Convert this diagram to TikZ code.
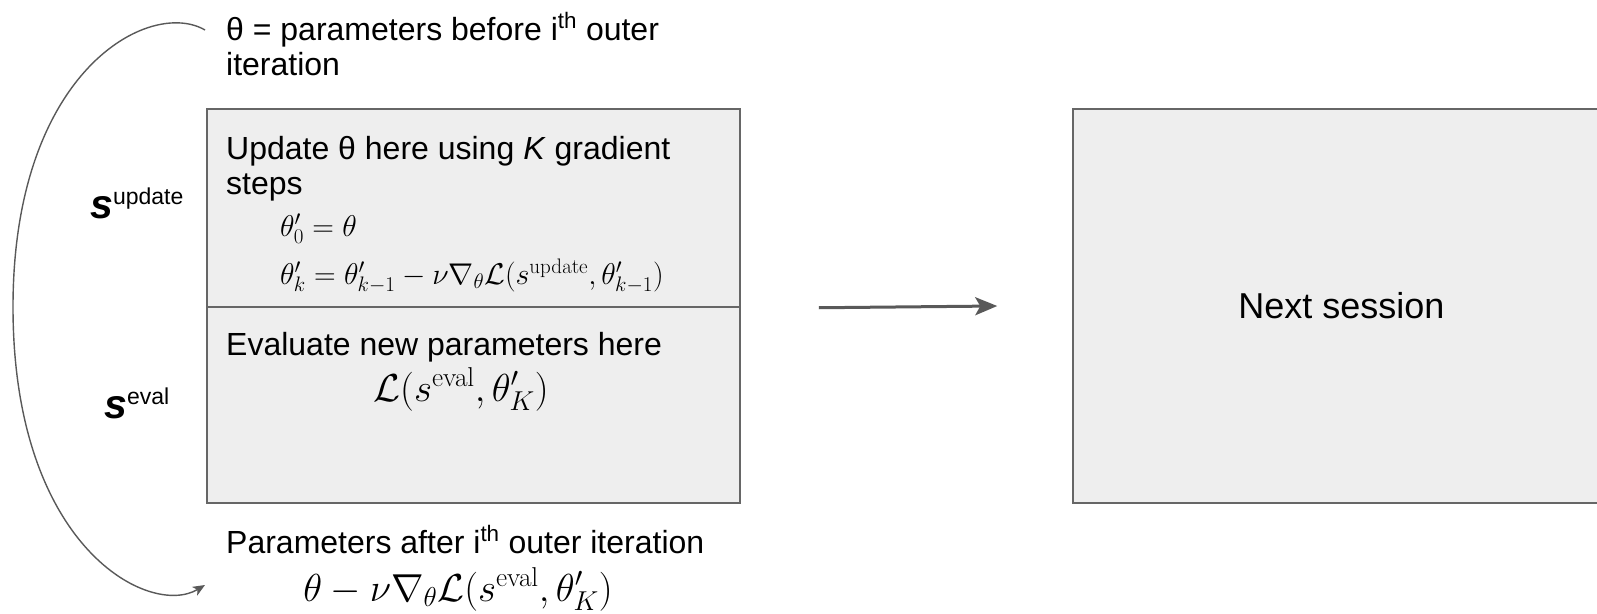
\RequirePackage{fix-cm}
\documentclass[tikz,border=0pt]{standalone}
\usepackage[no-math]{fontspec}
\setmainfont{Liberation Sans}
\usepackage{amsmath}
\usetikzlibrary{arrows.meta}
\definecolor{boxfill}{HTML}{EEEEEE}
\definecolor{boxline}{HTML}{666666}
\definecolor{arrcol}{HTML}{595959}
\newcommand{\sidelabel}[1]{{\fontsize{41}{43}\selectfont\bfseries\itshape s}\raisebox{14pt}{\fontsize{23}{25}\selectfont #1}}
\begin{document}
\begin{tikzpicture}[x=1pt,y=-1pt,
  panel/.style={draw=boxline,line width=1.5pt,fill=boxfill,inner sep=0pt},
  txt/.style={anchor=base west,inner sep=0pt,font=\fontsize{32}{36}\selectfont},
  lbl/.style={anchor=base west,inner sep=0pt},
  eq/.style={anchor=base west,inner sep=0pt,font=\fontsize{30}{34}\selectfont},
  bigeq/.style={anchor=base,inner sep=0pt,font=\fontsize{39}{45}\selectfont},
  conn/.style={draw=arrcol,line width=3pt,-{Stealth[length=22pt,width=18pt,inset=5pt]}},
  loopconn/.style={draw=arrcol,line width=1.4pt,-{Stealth[length=12pt,width=10pt,inset=3pt]}},
  ]
\useasboundingbox (0,0) rectangle (1597,613);
% boxes
\node[panel,minimum width=533pt,minimum height=198pt] (upd) at (473.5,208) {};
\node[panel,minimum width=533pt,minimum height=196pt] (evl) at (473.5,405) {};
\node[panel,minimum width=537pt,minimum height=394pt,font=\fontsize{36}{40}\selectfont] (next) at (1341.5,306) {Next session};
% top text
\node[txt] (top1) at (226,40) {θ = parameters before i\textsuperscript{th} outer};
\node[txt] (top2) at (226,75) {iteration};
% update box
\node[txt] (u1) at (226,159) {Update θ here using \textit{K} gradient};
\node[txt] (u2) at (226,194) {steps};
\node[eq] (u3) at (280,236) {$\theta'_0 = \theta$};
\node[eq] (u4) at (280,284) {$\theta'_k = \theta'_{k-1} - \nu \nabla_\theta \mathcal{L}(s^{\mathrm{update}}, \theta'_{k-1})$};
% eval box
\node[txt] (e1) at (226,355) {Evaluate new parameters here};
\node[bigeq] (e2) at (461,401) {$\mathcal{L}(s^{\mathrm{eval}}, \theta'_K)$};
% bottom text
\node[txt] (b1) at (226,553) {Parameters after i\textsuperscript{th} outer iteration};
\node[bigeq] (b2) at (458,601) {$\theta - \nu \nabla_\theta \mathcal{L}(s^{\mathrm{eval}}, \theta'_K)$};
% side labels
\node[lbl] (su) at (90,218) {\sidelabel{update}};
\node[lbl] (se) at (104,418) {\sidelabel{eval}};
% arrow to next session
\draw[conn] ([xshift=78pt]upd.south east) -- ([xshift=-75pt]next.west);
% loop curve
\coordinate (cs) at (205,30);
\coordinate (cm) at (13,307);
\coordinate (ce) at (205,585);
\draw[loopconn] (cs) .. controls (150,-2) and (13,70) .. (cm)
  .. controls (13,548) and (150,618) .. (ce);
\end{tikzpicture}
\end{document}
